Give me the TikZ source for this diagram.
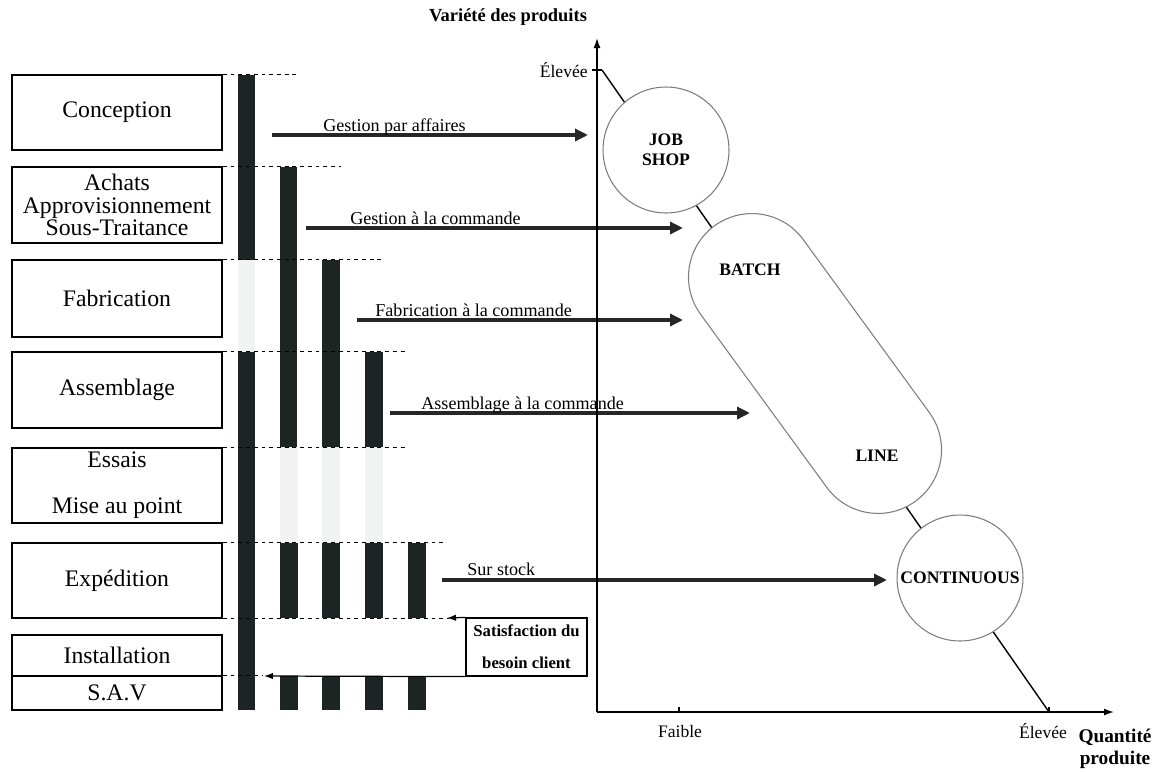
\documentclass[tikz,border=0pt]{standalone}
\usepackage{fontspec}
\setmainfont{Liberation Serif}
\usetikzlibrary{arrows.meta,shapes.misc}
\definecolor{barcol}{RGB}{28,36,36}
\definecolor{ghostcol}{RGB}{241,243,243}
\definecolor{shapeline}{RGB}{125,125,125}

\begin{document}
\begin{tikzpicture}[x=0.02cm, y=-0.02cm,
  phasebox/.style={draw, line width=1pt, minimum width=4.2cm, inner sep=0pt, align=center, font=\fontsize{13.5}{13}\selectfont},
  bar/.style={fill=barcol},
  ghost/.style={fill=ghostcol},
  guide/.style={dash pattern=on 2.2pt off 2.2pt, line width=0.6pt},
  flow/.style={line width=2.2pt, draw=black!85, -{Triangle[length=2.6mm, width=2.4mm]}},
  flowlabel/.style={anchor=base west, inner sep=0pt, font=\fontsize{10.3}{12}\selectfont},
  back/.style={line width=0.7pt, -{Latex[length=1.8mm, width=1.3mm]}},
  satbox/.style={draw, line width=0.7pt, minimum width=2.42cm, minimum height=1.16cm, inner sep=0pt, align=center, font=\bfseries\fontsize{9.5}{18}\selectfont},
  axis/.style={line width=0.8pt, -{Latex[length=2mm, width=1.4mm]}},
  ticklabel/.style={inner sep=0pt, font=\fontsize{10}{12}\selectfont},
  axistitle/.style={inner sep=0pt, align=center, font=\bfseries\fontsize{10.5}{12.5}\selectfont},
  process/.style={circle, draw=shapeline, fill=white, line width=0.6pt, minimum size=2.52cm, inner sep=0pt, align=center, font=\bfseries\fontsize{10}{11.5}\selectfont},
  tag/.style={inner sep=0pt, font=\bfseries\fontsize{10}{12}\selectfont}]
\useasboundingbox (0,0) rectangle (1166,771);

% phases
\node[phasebox, minimum height=1.5cm] (conc) at (117,112.5) {Conception};
\node[phasebox, minimum height=1.52cm] (ach) at (117,205) {Achats\\Approvisionnement\\Sous-Traitance};
\node[phasebox, minimum height=1.54cm] (fab) at (117,298.5) {Fabrication};
\node[phasebox, minimum height=1.52cm] (ass) at (117,390) {Assemblage};
\node[phasebox, minimum height=1.5cm] (ess) at (117,485.5) {Essais\\[13pt]Mise au point};
\node[phasebox, minimum height=1.5cm] (exp) at (117,580.5) {Expédition};
\node[phasebox, minimum height=0.82cm] (inst) at (117,655.5) {Installation};
\node[phasebox, minimum height=0.68cm] (sav) at (117,693) {S.A.V};

% bars
\fill[bar] (238,75) rectangle (255,260);
\fill[ghost] (238,260) rectangle (255,352);
\fill[bar] (238,352) rectangle (255,710);
\fill[bar] (280,167) rectangle (297,447);
\fill[bar] (322,260) rectangle (340,447);
\fill[bar] (365,352) rectangle (383,447);
\foreach \bx in {280,322,365} {
  \fill[ghost] (\bx,447) rectangle ++(17.5,96);
}
\foreach \bx in {280,322,365,408} {
  \fill[bar] (\bx,543) rectangle ++(17.5,75);
  \fill[bar] (\bx,676) rectangle ++(17.5,34);
}

% dashed guides
\draw[guide] (conc.north east) -- ++(73,0);
\draw[guide] (ach.north east) -- ++(118,0);
\draw[guide] (fab.north east) -- ++(160,0);
\draw[guide] (ass.north east) -- ++(183,0);
\draw[guide] (ess.north east) -- ++(183,0);
\draw[guide] (exp.north east) -- ++(220,0);
\draw[guide] (exp.south east) -- ++(226,0);
\draw[guide] (sav.north east) -- ++(40,0);

% flows
\path (272,135) coordinate (f1s) (588,135) coordinate (f1e);
\path (306,228) coordinate (f2s) (683,228) coordinate (f2e);
\path (357,320) coordinate (f3s) (683,320) coordinate (f3e);
\path (390,413) coordinate (f4s) (750,413) coordinate (f4e);
\path (442,580) coordinate (f5s) (887,580) coordinate (f5e);
\draw[flow] (f1s) -- (f1e);
\draw[flow] (f2s) -- (f2e);
\draw[flow] (f3s) -- (f3e);
\draw[flow] (f4s) -- (f4e);
\draw[flow] (f5s) -- (f5e);
\node[flowlabel] (l1) at (323,131) {Gestion par affaires};
\node[flowlabel] (l2) at (350,224) {Gestion à la commande};
\node[flowlabel] (l3) at (375,316) {Fabrication à la commande};
\node[flowlabel] (l4) at (421,409) {Assemblage à la commande};
\node[flowlabel] (l5) at (467,575) {Sur stock};

% client need
\node[satbox] (sat) at (526.5,647) {Satisfaction du\\besoin client};
\coordinate (s1e) at (447,618);
\coordinate (s2e) at (264,676);
\draw[back] (sat.north west) -- (s1e);
\draw[back] (sat.south west) -- (s2e);

% axes
\coordinate (origin) at (597,712);
\coordinate (ytop) at (597,38);
\coordinate (xend) at (1114,712);
\draw[axis] (origin) -- (ytop);
\draw[axis] (origin) -- (xend);
\coordinate (yhigh) at (602,70);
\coordinate (xlow) at (679,712);
\coordinate (xhigh) at (1049,712);
\draw[line width=0.6pt] (592,70) -- (yhigh);
\draw[line width=0.6pt] (679,707) -- (xlow);
\draw[line width=0.6pt] (1049,707) -- (xhigh);
\node[ticklabel, anchor=east] (yhl) at (588,70) {Élevée};
\node[ticklabel] (xll) at (680,731) {Faible};
\node[ticklabel] (xhl) at (1043,731) {Élevée};
\node[axistitle] (ytitle) at (508,17) {Variété des produits};
\node[axistitle, font=\bfseries\fontsize{11}{12.5}\selectfont] (xtitle) at (1115,749) {Quantité\\produite};

% process types
\draw[line width=0.8pt] (yhigh) -- (xhigh);
\node[process] (job) at (666,150) {JOB\\SHOP};
\node[rounded rectangle, draw=shapeline, fill=white, line width=0.6pt, minimum width=6.82cm, minimum height=2.54cm, inner sep=0pt, rotate=-53.9] (batchline) at (815,363.5) {};
\node[tag] (batch) at (750,270) {BATCH};
\node[tag] (line) at (877,456) {LINE};
\node[process] (cont) at (960,578) {CONTINUOUS};
\end{tikzpicture}
\end{document}
